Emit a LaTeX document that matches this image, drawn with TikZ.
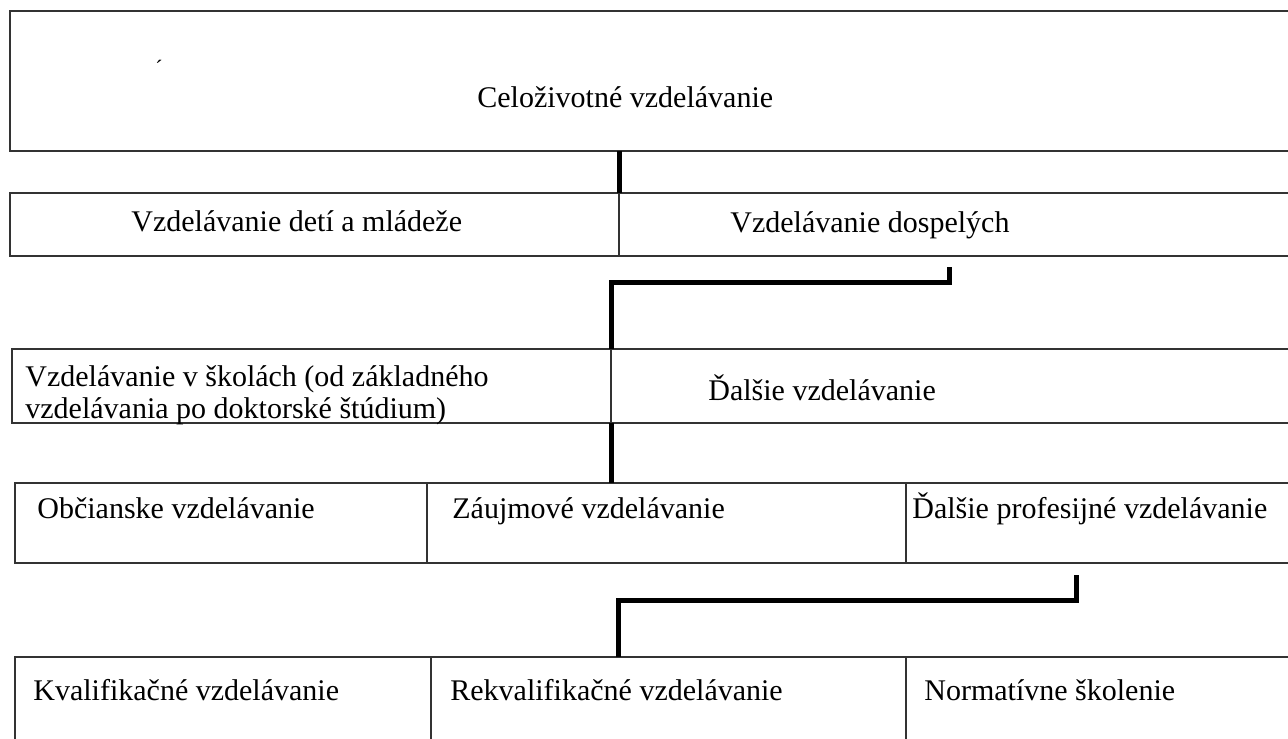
\documentclass[tikz,border=0pt]{standalone}
\usepackage{fontspec}
\setmainfont{Liberation Serif}
\usetikzlibrary{calc}

\tikzset{
  cell/.style={draw=black!80, line width=0.8pt, inner sep=0pt, outer sep=0pt},
  lbl/.style={anchor=base west, inner sep=0pt, align=left,
    font=\fontsize{15}{16}\selectfont},
  link/.style={line width=2.5pt, line join=miter}
}

% one table cell from (x1,y1) to (x2,y2), in pixels
\newcommand{\cellbox}[5]{%
  \node[cell, minimum width={(#4-#2)*0.5pt}, minimum height={(#5-#3)*0.5pt}]
    (#1) at ({(#2+#4)/2},{(#3+#5)/2}) {};}

\begin{document}
\begin{tikzpicture}[x=0.5pt,y=-0.5pt]
\useasboundingbox (0,0) rectangle (1288,738);
\clip (0,0) rectangle (1288,738);

% Top box
\cellbox{top}{10}{11}{1300}{151}
\node[lbl] (ttop) at (477,107) {Celoživotné vzdelávanie};
\node[font=\fontsize{11}{11}\selectfont, inner sep=0pt] (tick) at (159,68) {´};

% Row 2
\cellbox{c21}{10}{193}{619}{256}
\cellbox{c22}{619}{193}{1300}{256}
\node[lbl] (t21) at (131,231) {Vzdelávanie detí a mládeže};
\node[lbl] (t22) at (730,232) {Vzdelávanie dospelých};

% Row 3
\cellbox{c31}{12}{349}{611}{423}
\cellbox{c32}{611}{349}{1300}{423}
\node[lbl] (t31) at (25,418) {Vzdelávanie v školách (od základného\\
  vzdelávania po doktorské štúdium)};
\node[lbl] (t32) at (708,400) {Ďalšie vzdelávanie};

% Row 4
\cellbox{c41}{15}{483}{427}{563}
\cellbox{c42}{427}{483}{906}{563}
\cellbox{c43}{906}{483}{1300}{563}
\node[lbl] (t41) at (37,518) {Občianske vzdelávanie};
\node[lbl] (t42) at (452,518) {Záujmové vzdelávanie};
\node[lbl] (t43) at (912,518) {Ďalšie profesijné vzdelávanie};

% Row 5
\cellbox{c51}{15}{657}{431}{760}
\cellbox{c52}{431}{657}{906}{760}
\cellbox{c53}{906}{657}{1300}{760}
\node[lbl] (t51) at (33,700) {Kvalifikačné vzdelávanie};
\node[lbl] (t52) at (450,700) {Rekvalifikačné vzdelávanie};
\node[lbl] (t53) at (924,700) {Normatívne školenie};

% Connectors
\coordinate (b1) at (949,267);
\coordinate (b2) at (1076,575);
\draw[link] (c21.north east |- top.south) -- (c21.north east);
\draw[link] (b1) -- ++(0,15) -| (c31.north east);
\draw[link] (c31.south east) -- (c31.south east |- c42.north);
\draw[link] (b2) -- ++(0,25) -| ($(c52.north west)+(187,0)$);

\end{tikzpicture}
\end{document}
